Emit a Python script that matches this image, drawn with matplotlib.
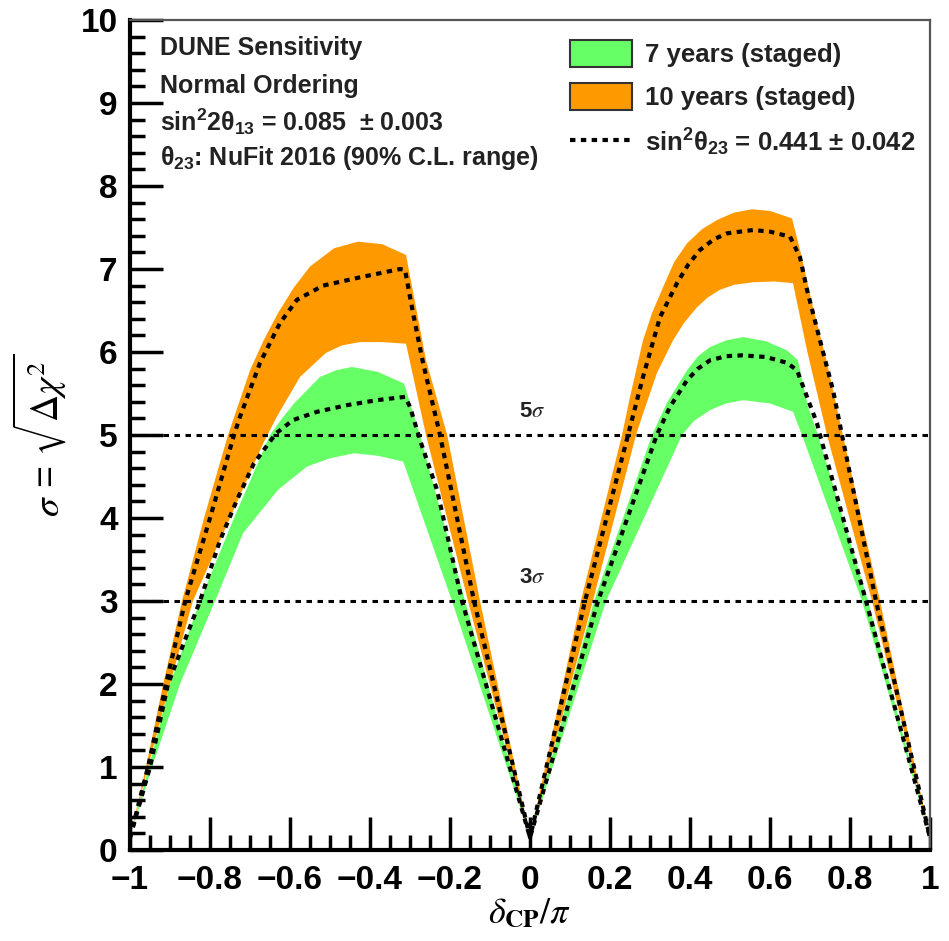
import numpy as np
import matplotlib
matplotlib.use("Agg")
import matplotlib.pyplot as plt
from matplotlib.patches import Patch
from matplotlib.lines import Line2D

plt.rcParams['font.family'] = ['Liberation Sans', 'DejaVu Sans']
plt.rcParams['mathtext.fontset'] = 'custom'
plt.rcParams['mathtext.rm'] = 'Liberation Sans:bold'
plt.rcParams['mathtext.it'] = 'Liberation Sans:bold'
plt.rcParams['mathtext.bf'] = 'Liberation Sans:bold'

# ---- data (delta_CP/pi, sigma) ----
# 10 years staged, upper / lower edge of the band and central dotted curve
o_hi_x = [-1.0, -0.96, -0.917, -0.87, -0.815, -0.755, -0.70, -0.665, -0.63, -0.59, -0.55, -0.49, -0.43,
          -0.37, -0.31, -0.26, -0.207, -0.125, 0.0,
          0.127, 0.23, 0.25, 0.2825, 0.305, 0.3325, 0.36, 0.3925, 0.43, 0.4675, 0.51, 0.555, 0.60, 0.655,
          0.675, 0.7075, 0.7425, 0.782, 0.875, 1.0]
o_hi_y = [0.15, 1.0, 2.0, 3.0, 4.0, 5.0, 5.78, 6.15, 6.47, 6.78, 7.03, 7.25, 7.33,
          7.30, 7.17, 5.9, 5.0, 3.0, 0.15,
          3.0, 5.0, 5.46, 6.14, 6.47, 6.78, 7.08, 7.31, 7.48, 7.59, 7.68, 7.72, 7.70, 7.61,
          7.23, 6.54, 5.87, 5.0, 3.0, 0.15]
o_lo_x = [-1.0, -0.955, -0.9, -0.843, -0.75, -0.667, -0.633, -0.575, -0.51, -0.47, -0.425, -0.37, -0.31,
          -0.26, -0.155, 0.0,
          0.157, 0.265, 0.28, 0.3175, 0.3575, 0.385, 0.4175, 0.445, 0.475, 0.51, 0.5575, 0.61, 0.6575,
          0.6925, 0.7425, 0.855, 1.0]
o_lo_y = [0.15, 1.0, 2.0, 3.0, 4.0, 4.9, 5.22, 5.7, 5.99, 6.08, 6.12, 6.12, 6.1,
          5.0, 3.0, 0.15,
          3.0, 5.0, 5.22, 5.75, 6.14, 6.35, 6.54, 6.66, 6.75, 6.81, 6.84, 6.85, 6.83,
          6.02, 5.0, 3.0, 0.15]
o_mid_x = [-1.0, -0.955, -0.91, -0.862, -0.80, -0.74, -0.725, -0.675, -0.625, -0.5825, -0.5175, -0.425,
           -0.325, -0.3125, -0.2925, -0.2675, -0.225, -0.14, 0.0,
           0.1375, 0.245, 0.2825, 0.325, 0.3675, 0.395, 0.425, 0.46, 0.4925, 0.5575, 0.60, 0.65, 0.675,
           0.6925, 0.725, 0.7575, 0.78, 0.865, 1.0]
o_mid_y = [0.15, 1.0, 2.0, 3.0, 4.0, 5.0, 5.22, 5.87, 6.35, 6.63, 6.8, 6.9,
           7.0, 6.99, 6.47, 5.87, 5.0, 3.0, 0.15,
           3.0, 5.0, 5.7, 6.42, 6.83, 7.05, 7.23, 7.36, 7.43, 7.47, 7.45, 7.39, 7.14,
           6.75, 6.14, 5.54, 5.0, 3.0, 0.15]

# 7 years staged
g_hi_x = [-1.0, -0.95, -0.9, -0.825, -0.74, -0.65, -0.62, -0.59, -0.525, -0.485, -0.445, -0.38, -0.315,
          -0.275, -0.1625, 0.0,
          0.16, 0.305, 0.3425, 0.3925, 0.42, 0.45, 0.49, 0.5325, 0.59, 0.6425, 0.67, 0.695, 0.72, 0.845, 1.0]
g_hi_y = [0.15, 1.05, 2.0, 3.0, 4.0, 5.0, 5.2, 5.38, 5.7, 5.78, 5.82, 5.76, 5.62,
          5.0, 3.0, 0.15,
          3.0, 5.0, 5.39, 5.78, 5.95, 6.06, 6.14, 6.18, 6.13, 6.02, 5.9, 5.34, 5.0, 3.0, 0.15]
g_lo_x = [-1.0, -0.945, -0.875, -0.7875, -0.717, -0.67, -0.63, -0.5575, -0.5, -0.44, -0.38, -0.317,
          -0.195, 0.0,
          0.19, 0.285, 0.38, 0.41, 0.45, 0.49, 0.5325, 0.60, 0.6575, 0.68, 0.83, 1.0]
g_lo_y = [0.15, 1.0, 2.0, 3.0, 3.82, 4.1, 4.34, 4.62, 4.72, 4.78, 4.75, 4.68,
          3.0, 0.15,
          3.0, 4.0, 5.0, 5.17, 5.3, 5.38, 5.42, 5.38, 5.28, 5.0, 3.0, 0.15]
g_mid_x = [-1.0, -0.95, -0.905, -0.825, -0.775, -0.7325, -0.69, -0.635, -0.5925, -0.5325, -0.4575,
           -0.3825, -0.3125, -0.3, -0.275, -0.2325, -0.17, 0.0,
           0.17, 0.317, 0.35, 0.3925, 0.42, 0.45, 0.49, 0.53, 0.59, 0.6425, 0.6675, 0.6925, 0.7175,
           0.725, 0.84, 1.0]
g_mid_y = [0.15, 1.0, 2.0, 3.0, 3.73, 4.22, 4.66, 5.02, 5.18, 5.28, 5.36,
           5.42, 5.46, 5.34, 4.94, 4.34, 3.0, 0.15,
           3.0, 5.0, 5.34, 5.66, 5.8, 5.9, 5.95, 5.96, 5.94, 5.87, 5.78, 5.46, 5.14,
           5.0, 3.0, 0.15]

sigma_levels = [3, 5]
sigma_labels = [r'3$\sigma$', r'5$\sigma$']

green = '#66ff66'
orange = '#ff9900'
dots = (0, (1.3, 1.3))

fig = plt.figure(figsize=(9.49, 9.41), dpi=100)
ax = fig.add_axes([0.137, 0.0967, 0.843, 0.882])

ax.fill(o_hi_x + o_lo_x[::-1], o_hi_y + o_lo_y[::-1], color=orange, lw=0)
ax.fill(g_hi_x + g_lo_x[::-1], g_hi_y + g_lo_y[::-1], color=green, lw=0)
ax.plot(o_mid_x, o_mid_y, color='black', lw=3, linestyle=dots)
ax.plot(g_mid_x, g_mid_y, color='black', lw=3, linestyle=dots)

for lev, lab in zip(sigma_levels, sigma_labels):
    ax.axhline(lev, color='black', lw=2.2, linestyle=(0, (1.8, 1.8)))
    ax.text(0.005, lev + 0.28, lab, ha='center', va='center', fontsize=16,
            fontweight='bold', color='#222222', math_fontfamily='stix')

ax.set_xlim(-1, 1)
ax.set_ylim(0, 10)
ax.set_xticks(np.arange(-1, 1.01, 0.2))
ax.set_xticklabels(['\u22121', '\u22120.8', '\u22120.6', '\u22120.4', '\u22120.2', '0',
                    '0.2', '0.4', '0.6', '0.8', '1'])
ax.set_xticks(np.arange(-1, 1.01, 0.05), minor=True)
ax.set_yticks(range(0, 11))
ax.set_yticks(np.arange(0, 10.01, 0.2), minor=True)
ax.tick_params(which='both', direction='in', top=False, right=False, width=2.5)
ax.tick_params(which='major', length=24, labelsize=24)
ax.tick_params(which='minor', length=11)
ax.tick_params(axis='x', which='major', pad=11)
ax.tick_params(axis='y', which='major', pad=9)
for lab in ax.get_xticklabels() + ax.get_yticklabels():
    lab.set_fontweight('bold')

for s in ['left', 'bottom']:
    ax.spines[s].set_linewidth(3)
    ax.spines[s].set_color('black')
for s in ['top', 'right']:
    ax.spines[s].set_linewidth(1.6)
    ax.spines[s].set_color('#555555')

ax.set_xlabel(r'$\delta_{\mathbf{CP}}/\pi$', fontsize=26, math_fontfamily='stix', labelpad=0)
ax.set_ylabel(r'$\sigma$ = $\sqrt{\Delta\chi^2}$', fontsize=27, math_fontfamily='stix', labelpad=8)

info = ['DUNE Sensitivity', 'Normal Ordering',
        r'sin$^{2}$2$\theta_{13}$ = 0.085  $\pm$ 0.003',
        r'$\theta_{23}$: NuFit 2016 (90% C.L. range)']
info_y = [0.966, 0.921, 0.877, 0.834]
for t, yy in zip(info, info_y):
    ax.text(0.0375, yy, t, transform=ax.transAxes, fontsize=18, fontweight='bold',
            color='#222222', va='center', ha='left')

handles = [Patch(facecolor=green, edgecolor='#333333', lw=1.5),
           Patch(facecolor=orange, edgecolor='#333333', lw=1.5),
           Line2D([], [], color='black', lw=3, linestyle=dots)]
labels = ['7 years (staged)', '10 years (staged)', r'sin$^{2}\theta_{23}$ = 0.441 $\pm$ 0.042']
leg = ax.legend(handles, labels, loc='upper left', bbox_to_anchor=(0.55, 0.976), frameon=False,
                fontsize=18.5, handlelength=2.4, handleheight=1.25, labelspacing=0.62,
                handletextpad=0.5, borderpad=0, borderaxespad=0)
for t in leg.get_texts():
    t.set_fontweight('bold')
    t.set_color('#222222')

fig.savefig('out.png', dpi=100)
